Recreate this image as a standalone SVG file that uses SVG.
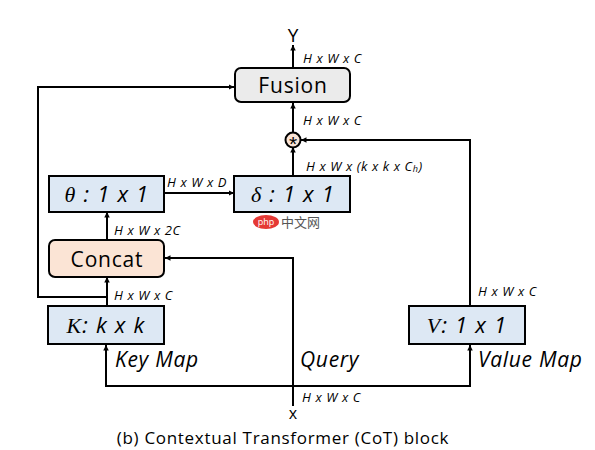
<svg xmlns="http://www.w3.org/2000/svg" width="595" height="450" viewBox="0 0 595 450">
<style>
.ln{fill:none;stroke:#000;stroke-width:2}
.blue{fill:#dde8f4;stroke:#000;stroke-width:2}
.lbl{font-family:"Open Sans","Noto Sans",sans-serif;font-size:13px;font-style:italic;fill:#000;letter-spacing:0.6px}
.big{font-family:"Open Sans","Noto Sans",sans-serif;font-size:21px;fill:#000;letter-spacing:0.8px}
.it{font-family:"Open Sans","Noto Sans",sans-serif;font-size:22px;font-style:italic;fill:#000;letter-spacing:1.2px}
.ser{font-family:"Liberation Serif",serif;font-style:italic}
.map{font-family:"Open Sans","Noto Sans",sans-serif;font-size:21px;font-style:italic;fill:#000;letter-spacing:0.7px}
</style>
<defs>
<marker id="ah" viewBox="0 0 10 10" refX="10" refY="5" markerWidth="5.5" markerHeight="5.5" orient="auto" markerUnits="userSpaceOnUse">
<path d="M0,0 L10,5 L0,10 z" fill="#000"/>
</marker>
</defs>
<g id="connectors">
<path class="ln" d="M293,67 V45" marker-end="url(#ah)"/>
<path class="ln" d="M293,133 V103" marker-end="url(#ah)"/>
<path class="ln" d="M293,176 V147" marker-end="url(#ah)"/>
<path class="ln" d="M470,306 V140 H301" marker-end="url(#ah)"/>
<path class="ln" d="M164,193 H234" marker-end="url(#ah)"/>
<path class="ln" d="M107,240 V212" marker-end="url(#ah)"/>
<path class="ln" d="M293,406 V258 H165" marker-end="url(#ah)"/>
<path class="ln" d="M107,306 V277" marker-end="url(#ah)"/>
<path class="ln" d="M107,297 H38 V87 H234" marker-end="url(#ah)"/>
<path class="ln" d="M293,386 H106 V345" marker-end="url(#ah)"/>
<path class="ln" d="M293,386 H470 V345" marker-end="url(#ah)"/>
</g>
<g id="fusion">
<rect x="235" y="68" width="115" height="34" rx="6" fill="#ebebeb" stroke="#000" stroke-width="2"/>
<text class="big" x="293" y="92.5" text-anchor="middle">Fusion</text>
</g>
<g id="mult">
<circle cx="293" cy="140" r="7.5" fill="#fbe4d5" stroke="#000" stroke-width="2"/>
<text x="293" y="150.5" text-anchor="middle" font-family="Liberation Sans,sans-serif" font-size="21px">*</text>
</g>
<g id="theta">
<rect class="blue" x="49" y="176" width="115" height="36"/>
<text class="it" x="107" y="202" text-anchor="middle"><tspan class="ser">θ</tspan> : 1 x 1</text>
</g>
<g id="delta">
<rect class="blue" x="234" y="176" width="116" height="36"/>
<text class="it" x="293" y="202" text-anchor="middle"><tspan class="ser">δ</tspan> : 1 x 1</text>
</g>
<g id="concat">
<rect x="49" y="240" width="115" height="37" rx="6" fill="#fbe4d5" stroke="#000" stroke-width="2"/>
<text class="big" x="107" y="266.5" text-anchor="middle">Concat</text>
</g>
<g id="key">
<rect class="blue" x="48" y="306" width="116" height="38"/>
<text class="it" x="106" y="333" text-anchor="middle"><tspan class="ser">K</tspan>: k x k</text>
</g>
<g id="value">
<rect class="blue" x="409" y="306" width="116" height="38"/>
<text class="it" x="467" y="333" text-anchor="middle"><tspan class="ser">V</tspan>: 1 x 1</text>
</g>
<g id="labels">
<text x="293" y="42" text-anchor="middle" font-family="Open Sans,sans-serif" font-size="19px">Y</text>
<text class="lbl" x="303" y="63">H x W x C</text>
<text class="lbl" x="303" y="125">H x W x C</text>
<text class="lbl" x="306" y="171">H x W x (k x k x C<tspan font-size="9px" dy="1">h</tspan><tspan dy="-1">)</tspan></text>
<text class="lbl" x="167" y="187">H x W x D</text>
<text class="lbl" x="114" y="235">H x W x 2C</text>
<text class="lbl" x="114" y="300">H x W x C</text>
<text class="lbl" x="478" y="296">H x W x C</text>
<text class="map" x="115" y="367">Key Map</text>
<text class="map" x="300" y="367">Query</text>
<text class="map" x="478" y="367">Value Map</text>
<text class="lbl" x="302" y="402">H x W x C</text>
<text x="293" y="419" text-anchor="middle" font-family="Open Sans,sans-serif" font-size="16px">x</text>
<text x="283" y="444" text-anchor="middle" font-family="Open Sans,sans-serif" font-size="17px" letter-spacing="0.7px">(b) Contextual Transformer (CoT) block</text>
</g>
<g id="watermark">
<ellipse cx="266" cy="222" rx="13" ry="7" fill="#e53935"/>
<text x="266" y="225" text-anchor="middle" font-family="Open Sans,sans-serif" font-size="9px" fill="#fff">php</text>
<text x="281" y="227" font-family="Noto Sans CJK SC,sans-serif" font-size="13px" fill="#555">中文网</text>
</g>
</svg>
